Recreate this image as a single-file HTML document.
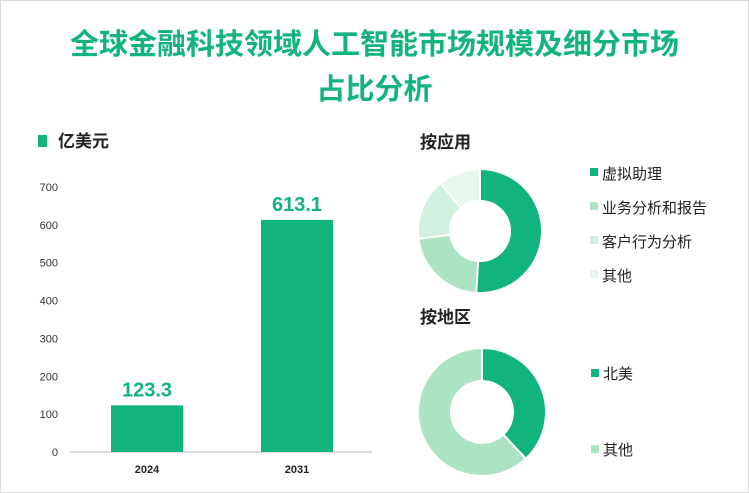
<!DOCTYPE html>
<html><head><meta charset="utf-8"><style>
body{margin:0;width:749px;height:493px;background:#fff;font-family:"Liberation Sans","Noto Sans CJK SC",sans-serif;overflow:hidden}
.frame{position:absolute;left:0;top:0;width:747px;height:491px;border:1px solid #d9d9d9}
.title{position:absolute;left:0;top:23px;width:749px;text-align:center;font-size:29px;font-weight:bold;color:#12b47c;line-height:45px}
</style></head><body>
<div class="frame"></div>
<div class="title">全球金融科技领域人工智能市场规模及细分市场<br>占比分析</div>
<svg id="svg" width="749" height="493" style="position:absolute;left:0;top:0"></svg>
<script>
const years=["2024","2031"];
const values=[123.3,613.1];
const yTicks=[0,100,200,300,400,500,600,700];
const appLabels=["虚拟助理","业务分析和报告","客户行为分析","其他"];
const appShares=[51,22,16,11];
const regionLabels=["北美","其他"];
const regionShares=[38,62];
const ns="http://www.w3.org/2000/svg";
const svg=document.getElementById('svg');
function mk(t,a,txt){const e=document.createElementNS(ns,t);for(const k in a)e.setAttribute(k,a[k]);if(txt!=null)e.textContent=txt;svg.appendChild(e);return e;}
const y0=452,yTop=187,vMax=700;
const ys=v=>y0-(y0-yTop)*v/vMax;
const xc=i=>147+i*150;
let e=mk('rect',{x:38,y:135,width:9,height:12,fill:'#12b47c'});

e=mk('text',{x:58,y:147,'font-size':17,'font-weight':'bold',fill:'#222'},'亿美元');

yTicks.forEach(t=>{e=mk('text',{x:58,y:ys(t)+4,'font-size':11,'text-anchor':'end',fill:'#333'},t);
});
e=mk('line',{x1:70,x2:372,y1:y0,y2:y0,stroke:'#bbb'});

values.forEach((v,i)=>{
e=mk('rect',{x:xc(i)-36,y:ys(v),width:72,height:y0-ys(v),fill:'#10b47c'});

e=mk('text',{x:xc(i),y:ys(v)-9,'font-size':20,'font-weight':'bold','text-anchor':'middle',fill:'#12b47c'},v.toFixed(1));

e=mk('text',{x:xc(i),y:473,'font-size':11,'font-weight':'bold','text-anchor':'middle',fill:'#222'},years[i]);

});
function donut(cx,cy,R,r,shares,colors,name){
const tot=shares.reduce((a,b)=>a+b,0);let a0=0;
shares.forEach((s,i)=>{const a1=a0+s/tot*2*Math.PI;
const p=(a,rad)=>[cx+rad*Math.sin(a),cy-rad*Math.cos(a)];
const [x1,y1]=p(a0,R),[x2,y2]=p(a1,R),[x3,y3]=p(a1,r),[x4,y4]=p(a0,r);const lg=(a1-a0)>Math.PI?1:0;
e=mk('path',{d:`M${x1},${y1}A${R},${R} 0 ${lg} 1 ${x2},${y2}L${x3},${y3}A${r},${r} 0 ${lg} 0 ${x4},${y4}Z`,fill:colors[i],stroke:'#fff','stroke-width':2});

a0=a1;});
}
const c1=['#10b47c','#abe3c3','#d2f0df','#e8f7ee'];
const c2=['#10b47c','#abe3c3'];
e=mk('text',{x:420,y:148,'font-size':17,'font-weight':'bold',fill:'#222'},'按应用');

e=mk('text',{x:420,y:323,'font-size':17,'font-weight':'bold',fill:'#222'},'按地区');

donut(480,231,62,30,appShares,c1,'application');
donut(482,412,64,31,regionShares,c2,'region');
appLabels.forEach((l,i)=>{const y=174+i*34;
e=mk('rect',{x:590,y:y-6,width:8,height:8,fill:c1[i]});

e=mk('text',{x:602,y:y+5,'font-size':15,fill:'#222'},l);
});
regionLabels.forEach((l,i)=>{const y=373+i*76;
e=mk('rect',{x:591,y:y-4,width:8,height:8,fill:c2[i]});

e=mk('text',{x:603,y:y+6,'font-size':15,fill:'#222'},l);
});
</script>
</body></html>
